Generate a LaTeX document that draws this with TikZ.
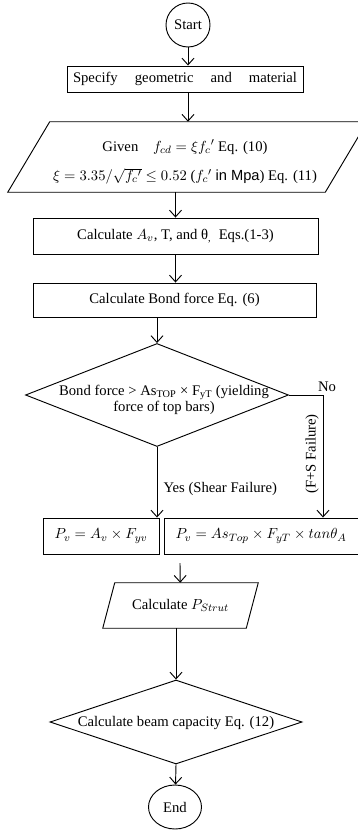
\documentclass[tikz,border=0pt]{standalone}
\usepackage{amsmath}
\usepackage{amssymb}
\usepackage{fontspec}
\setmainfont{Liberation Serif}
\setsansfont{Liberation Sans}
\usepackage{tikz}
\usetikzlibrary{shapes,arrows.meta,positioning,calc}

\begin{document}
\begin{tikzpicture}[
    x=0.75pt, y=-0.75pt,
    font=\fontsize{11}{13}\selectfont,
    every node/.style={inner sep=1pt},
    box/.style={rectangle, draw, line width=0.7pt, minimum height=27pt},
    io/.style={rectangle, inner sep=0pt},
    slant/.style={line width=0.7pt, line join=miter},
    decision/.style={diamond, draw, line width=0.7pt},
    terminal/.style={ellipse, draw, line width=0.7pt, inner sep=0pt},
    arrow/.style={-{Straight Barb[length=5pt,width=9pt]}, line width=0.7pt}
]
    \useasboundingbox (0,0) rectangle (357,830);

    \node[terminal, minimum width=33pt, minimum height=33pt] (start) at (188,25) {Start};
    \node[box, minimum width=177pt, minimum height=19.5pt, text width=168pt] (specify) at (185,79)
        {Specify\hfill geometric\hfill and\hfill material};
    \node[io, minimum width=269.25pt, minimum height=52.5pt] (given) at (187.5,157) {};
    \draw[slant] ([xshift=31.5pt]given.north west) -- (given.north east)
        -- ([xshift=-31.5pt]given.south east) -- (given.south west) -- cycle;
    \node[align=center] (giventext) at (185,162)
        {Given\quad $f_{cd} = \xi f_c{}'$ Eq. (10)\\[9pt]
         $\xi = 3.35/\sqrt{f_c{}'} \le 0.52$ ($f_c{}'$ \textsf{in Mpa}) Eq. (11)};
    \node[box, minimum width=213.75pt] (calc) at (175.5,236)
        {Calculate $A_v$, T, and θ\textsubscript{,}\ \ Eqs.(1-3)};
    \node[box, minimum width=212.25pt, minimum height=25.5pt] (bond) at (174.5,300)
        {Calculate Bond force Eq. (6)};
    \node[decision, minimum width=197.25pt, minimum height=77.25pt] (dec) at (157,395) {};
    \node[align=center, font=\fontsize{11}{12.5}\selectfont] (dectext) at (164,400)
        {Bond force > As\textsubscript{TOP} × F\textsubscript{yT} (yielding\\ force of top bars)};
    \node[box, minimum width=87pt] (pv1) at (101,536) {$P_v = A_v \times F_{yv}$};
    \node[box, minimum width=145.5pt] (pv2) at (261,536) {$P_v = As_{Top} \times F_{yT} \times tan\theta_A$};
    \coordinate (merge) at (180,563);
    \node[io, minimum width=116.25pt, minimum height=33.75pt] (strut) at (180.5,605.5)
        {Calculate $P_{Strut}$};
    \draw[slant] ([xshift=9pt]strut.north west) -- (strut.north east)
        -- ([xshift=-9pt]strut.south east) -- (strut.south west) -- cycle;
    \node[decision, minimum width=189pt, minimum height=63pt] (cap) at (176,722) {};
    \node (captext) at (176,723) {Calculate beam capacity Eq. (12)};
    \node[terminal, minimum width=39.75pt, minimum height=33pt] (end) at (175,807) {End};

    \node (no) at (327,387) {No};
    \node[anchor=west] (yes) at (162,489) {Yes (Shear Failure)};
    \node[rotate=90] (fsfail) at (312,454) {(F+S Failure)};

    \draw[arrow] (start) -- (start |- specify.north);
    \draw[arrow] (specify.south -| start) -- (given.north -| start);
    \draw[arrow] (given.south -| calc) -- (calc);
    \draw[arrow] (calc.south) -- (calc.south |- bond.north);
    \draw[arrow] (bond.south -| dec) -- (dec.north);
    \draw[arrow] (dec.south) -- (dec.south |- pv1.north);
    \draw[arrow] (dec.east) -| ([xshift=46.5pt]pv2.north);
    \draw[arrow] (merge) -- (strut);
    \draw[arrow] (strut.south -| cap) -- (cap.north);
    \draw[arrow] (cap.south) -- (end);
\end{tikzpicture}
\end{document}
